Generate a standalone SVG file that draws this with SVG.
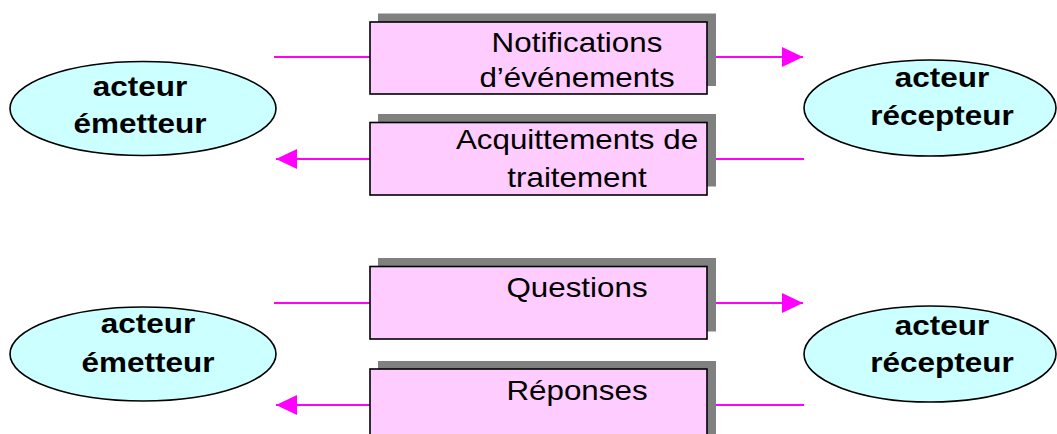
<svg xmlns="http://www.w3.org/2000/svg" width="1057" height="434" viewBox="0 0 1057 434">
  <style>
    .actor ellipse { fill: #CCFFFF; stroke: #000; stroke-width: 1.6; }
    .actor text { font-family: "Liberation Sans", Arial, sans-serif; font-weight: bold; font-size: 27px; fill: #000; text-anchor: middle; }
    .msg .shadow { fill: #808080; }
    .msg .box { fill: #FFCCFF; stroke: #000; stroke-width: 1.6; }
    .msg text { font-family: "Liberation Sans", Arial, sans-serif; font-size: 28px; fill: #000; text-anchor: middle; }
    .link { stroke: #FF00FF; stroke-width: 1.8; fill: none; }
  </style>
  <defs>
    <marker id="head" markerUnits="userSpaceOnUse" markerWidth="22" markerHeight="22" refX="21" refY="10" orient="auto">
      <path d="M0,0 L21,10 L0,20 Z" fill="#FF00FF"/>
    </marker>
  </defs>

  <rect width="1057" height="434" fill="#fff"/>

  <!-- connectors -->
  <g id="connectors">
    <line class="link" x1="274" y1="57" x2="370" y2="57"/>
    <line class="link" x1="716" y1="57" x2="803" y2="57" marker-end="url(#head)"/>
    <line class="link" x1="370" y1="159" x2="276" y2="159" marker-end="url(#head)"/>
    <line class="link" x1="716" y1="159" x2="804" y2="159"/>
    <line class="link" x1="274" y1="303" x2="370" y2="303"/>
    <line class="link" x1="716" y1="303" x2="803" y2="303" marker-end="url(#head)"/>
    <line class="link" x1="370" y1="405" x2="276" y2="405" marker-end="url(#head)"/>
    <line class="link" x1="716" y1="405" x2="804" y2="405"/>
  </g>

  <!-- actors -->
  <g id="emetteur-1" class="actor">
    <ellipse cx="143" cy="108.5" rx="133" ry="47"/>
    <text transform="translate(140 96) scale(1.165 1)">acteur</text>
    <text transform="translate(140 133) scale(1.165 1)">émetteur</text>
  </g>
  <g id="recepteur-1" class="actor">
    <ellipse cx="930" cy="108" rx="126" ry="48"/>
    <text transform="translate(942 87) scale(1.165 1)">acteur</text>
    <text transform="translate(942 125) scale(1.165 1)">récepteur</text>
  </g>
  <g id="emetteur-2" class="actor">
    <ellipse cx="143" cy="354" rx="133" ry="47"/>
    <text transform="translate(148 333) scale(1.165 1)">acteur</text>
    <text transform="translate(148 372) scale(1.165 1)">émetteur</text>
  </g>
  <g id="recepteur-2" class="actor">
    <ellipse cx="930" cy="354" rx="126" ry="48"/>
    <text transform="translate(942 335) scale(1.165 1)">acteur</text>
    <text transform="translate(942 372) scale(1.165 1)">récepteur</text>
  </g>

  <!-- message boxes -->
  <g id="notifications" class="msg">
    <rect class="shadow" x="378" y="13.5" width="338" height="72.5"/>
    <rect class="box" x="370" y="22" width="337" height="72"/>
    <text transform="translate(577 52) scale(1.12 1)">Notifications</text>
    <text transform="translate(577 87) scale(1.12 1)">d’événements</text>
  </g>
  <g id="acquittements" class="msg">
    <rect class="shadow" x="378" y="114" width="338" height="72.5"/>
    <rect class="box" x="370" y="122.5" width="337" height="72.5"/>
    <text transform="translate(577 149) scale(1.12 1)">Acquittements de</text>
    <text transform="translate(577 187) scale(1.12 1)">traitement</text>
  </g>
  <g id="questions" class="msg">
    <rect class="shadow" x="378" y="258" width="338" height="73.5"/>
    <rect class="box" x="370" y="266.5" width="337" height="72.5"/>
    <text transform="translate(577 297) scale(1.12 1)">Questions</text>
  </g>
  <g id="reponses" class="msg">
    <rect class="shadow" x="378" y="361" width="338" height="80"/>
    <rect class="box" x="370" y="369" width="337" height="80"/>
    <text transform="translate(577 400) scale(1.12 1)">Réponses</text>
  </g>
</svg>
